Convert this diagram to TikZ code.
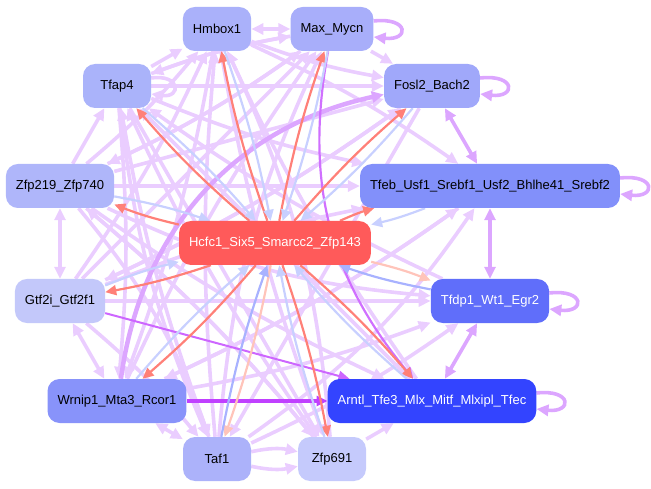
\documentclass[tikz,border=0pt]{standalone}
\usepackage{fontspec}
\setmainfont{Liberation Sans}
\usetikzlibrary{arrows.meta,backgrounds}
\definecolor{lav}{RGB}{234,205,255}
\definecolor{lavmid}{RGB}{220,166,255}
\definecolor{lavhot}{RGB}{192,64,255}
\definecolor{redin}{RGB}{255,128,120}
\definecolor{peach}{RGB}{255,196,186}
\definecolor{bluein}{RGB}{200,208,255}
\definecolor{bluedk}{RGB}{168,178,255}
\definecolor{nHmbox}{RGB}{170,177,250}
\definecolor{nMax}{RGB}{168,174,250}
\definecolor{nTfap}{RGB}{170,179,250}
\definecolor{nFosl}{RGB}{160,168,250}
\definecolor{nZfp}{RGB}{175,182,250}
\definecolor{nTfeb}{RGB}{130,144,250}
\definecolor{nGtf}{RGB}{195,200,250}
\definecolor{nTfdp}{RGB}{96,110,250}
\definecolor{nWrnip}{RGB}{136,147,250}
\definecolor{nArntl}{RGB}{51,68,255}
\definecolor{nTaf}{RGB}{172,178,250}
\definecolor{nZfpb}{RGB}{197,202,252}
\definecolor{nHcfc}{RGB}{255,90,90}
\begin{document}
\begin{tikzpicture}[line cap=round,line join=round,x=1pt,y=1pt,
	box/.style={rectangle,rounded corners=12pt,minimum height=44pt,minimum width=68pt,inner xsep=10pt,font=\fontsize{13}{15}\selectfont},
	lite/.style={draw=lav,line width=3.6pt,-{Triangle[length=12pt,width=11pt]}},
	litebi/.style={lite,{Triangle[length=12pt,width=11pt]}-{Triangle[length=12pt,width=11pt]}},
	mid/.style={lite,draw=lavmid},
	midbi/.style={litebi,draw=lavmid},
	hot/.style={line width=2.2pt,-{Triangle[length=11pt,width=10pt]}}]
	\useasboundingbox (0,0) rectangle (651,-489);
	% the factors
	\node[box,fill=nHmbox] (hmbox) at (217,-29) {Hmbox1};
	\node[box,fill=nMax] (maxmycn) at (332,-29) {Max\_Mycn};
	\node[box,fill=nTfap] (tfap) at (117,-86) {Tfap4};
	\node[box,fill=nFosl] (fosl) at (432,-86) {Fosl2\_Bach2};
	\node[box,fill=nZfp] (zfp219) at (60,-186) {Zfp219\_Zfp740};
	\node[box,fill=nTfeb] (tfeb) at (490,-186) {Tfeb\_Usf1\_Srebf1\_Usf2\_Bhlhe41\_Srebf2};
	\node[box,fill=nHcfc,text=white] (hcfc) at (275,-243) {Hcfc1\_Six5\_Smarcc2\_Zfp143};
	\node[box,fill=nGtf] (gtf) at (60,-301) {Gtf2i\_Gtf2f1};
	\node[box,fill=nTfdp,text=white] (tfdp) at (490,-301) {Tfdp1\_Wt1\_Egr2};
	\node[box,fill=nWrnip] (wrnip) at (117,-401) {Wrnip1\_Mta3\_Rcor1};
	\node[box,fill=nArntl,text=white] (arntl) at (432,-401) {Arntl\_Tfe3\_Mlx\_Mitf\_Mlxipl\_Tfec};
	\node[box,fill=nTaf] (taf) at (217,-459) {Taf1};
	\node[box,fill=nZfpb] (zfp691) at (332,-459) {Zfp691};
	\begin{pgfonlayer}{background}
	% light links between the outer factors
	\foreach \a/\b/\c in {tfap/fosl/0,zfp219/tfeb/0,gtf/tfdp/0,tfap/tfeb/-5,tfap/maxmycn/5,
		tfap/wrnip/5,taf/tfap/5,tfap/taf/-8,tfap/zfp691/0,zfp219/hmbox/-5,zfp219/maxmycn/-5,
		zfp219/fosl/0,zfp219/tfdp/-10,zfp219/arntl/-5,zfp219/zfp691/5,zfp219/taf/10,
		gtf/hmbox/-5,gtf/maxmycn/0,gtf/fosl/-5,gtf/tfeb/5,gtf/taf/5,wrnip/maxmycn/5,
		wrnip/tfeb/-5,wrnip/tfdp/-5,taf/hmbox/5,taf/maxmycn/10,taf/tfeb/-10,taf/tfdp/-5,
		zfp691/hmbox/-10,zfp691/tfap/5,zfp691/zfp219/-5,tfdp/tfap/5,tfeb/wrnip/5,fosl/taf/0,
		maxmycn/tfap/-5,maxmycn/zfp219/5,hmbox/fosl/-5,hmbox/tfeb/5,hmbox/zfp691/-5,
		hmbox/wrnip/5,arntl/hmbox/5,arntl/tfap/0,fosl/gtf/5}
		\draw[lite] (\a) to[bend left=\c] (\b);
	\draw[litebi] (hmbox) -- (maxmycn);
	\draw[litebi] (zfp219) -- (gtf);
	\draw[litebi] (gtf) -- (wrnip);
	\draw[litebi] (wrnip) -- (taf);
	\draw[lite] (zfp219) -- (tfap);
	\draw[lite] (tfap) -- (hmbox);
	\draw[lite] (maxmycn) -- (fosl);
	\draw[lite] (zfp691) -- (arntl);
	\draw[lite] (taf) to[bend left=12] (zfp691);
	\draw[lite] (taf) to[bend right=12] (zfp691);
	% stronger links
	\draw[midbi] (fosl) -- (tfeb);
	\draw[midbi] (tfeb) -- (tfdp);
	\draw[midbi] (tfdp) -- (arntl);
	\draw[mid,line width=4.5pt] (wrnip) to[bend left=35] (fosl);
	\draw[hot,draw=lavhot!75] (maxmycn) to[bend right=25] (arntl);
	\draw[hot,draw=lavhot!80,line width=2pt] (gtf) -- (arntl);
	\draw[hot,draw=lavhot,line width=4pt] (wrnip) -- (arntl);
	% to and from the centre
	\foreach \x/\r/\b in {hmbox/redin/bluein,maxmycn/redin/bluein,tfap/redin/bluein,
		zfp219/redin/bluein,gtf/redin/bluein,wrnip/redin/bluein,taf/peach/bluedk,
		zfp691/redin/bluein,arntl/redin/bluein,tfdp/peach/bluedk,tfeb/redin/bluein,fosl/redin/bluein}
		{
		\draw[hot,draw=\r] (hcfc) to[bend left=4] (\x);
		\draw[hot,draw=\b] (\x) to[bend left=4] (hcfc);
		}
	% self loops
	\foreach \n in {maxmycn,fosl,tfeb,tfdp,arntl}
		\draw[mid] ([yshift=8pt]\n.east) .. controls +(36,4) and +(36,-4) .. ([yshift=-8pt]\n.east);
	\draw[lite] ([yshift=8pt]tfap.east) .. controls +(30,4) and +(30,-4) .. ([yshift=-8pt]tfap.east);
	\end{pgfonlayer}
\end{tikzpicture}
\end{document}
